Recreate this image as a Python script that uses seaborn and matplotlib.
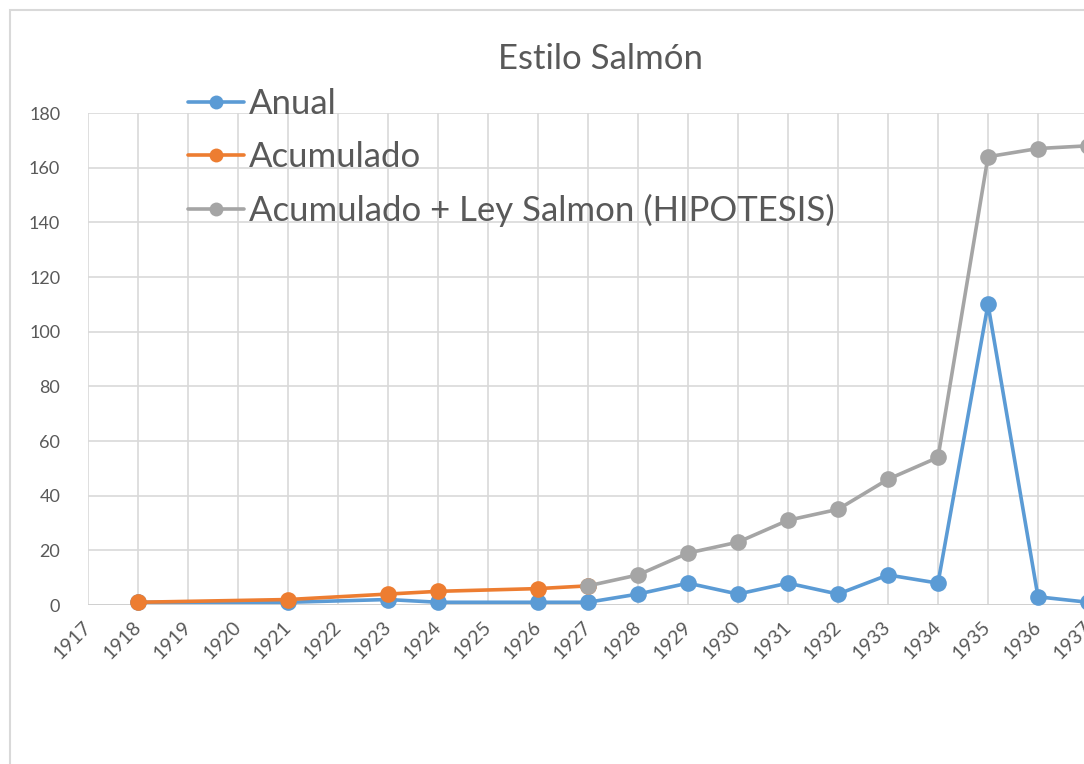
import pandas as pd
import matplotlib.pyplot as plt
import seaborn as sns
from matplotlib.patches import Rectangle

# Datos
anual_years = [1918, 1921, 1923, 1924, 1926, 1927, 1928, 1929, 1930, 1931, 1932, 1933, 1934, 1935, 1936, 1937]
anual_vals = [1, 1, 2, 1, 1, 1, 4, 8, 4, 8, 4, 11, 8, 110, 3, 1]

acum_years = [1918, 1921, 1923, 1924, 1926, 1927]
acum_vals = [1, 2, 4, 5, 6, 7]

ley_years = [1927, 1928, 1929, 1930, 1931, 1932, 1933, 1934, 1935, 1936, 1937]
ley_vals = [7, 11, 19, 23, 31, 35, 46, 54, 164, 167, 168]

x_ticks = list(range(1917, 1938))
y_ticks = list(range(0, 181, 20))

labels = ['Anual', 'Acumulado', 'Acumulado + Ley Salmon (HIPOTESIS)']
colors = ['#5B9BD5', '#ED7D31', '#A5A5A5']

sns.set_style('white')
plt.rcParams['font.family'] = ['Lato', 'DejaVu Sans']
txt_color = '#595959'

fig = plt.figure(figsize=(10.84, 7.64), dpi=100)
ax = fig.add_axes([88 / 1084, 159 / 764, 1000 / 1084, 492 / 764])

series = [(anual_years, anual_vals), (acum_years, acum_vals), (ley_years, ley_vals)]
for (yrs, vals), lab, col in zip(series, labels, colors):
    df = pd.DataFrame({'year': yrs, 'value': vals})
    sns.lineplot(data=df, x='year', y='value', ax=ax, color=col, label=lab,
                 marker='o', markersize=12, markeredgewidth=0, linewidth=2.6,
                 clip_on=False, zorder=3)

ax.set_xlim(1917, 1937)
ax.set_ylim(0, 180)
ax.set_xticks(x_ticks)
ax.set_yticks(y_ticks)
ax.set_xticklabels([str(t) for t in x_ticks], rotation=45, ha='right',
                   rotation_mode='anchor', va='center', fontsize=14, color=txt_color)
ax.set_yticklabels([str(t) for t in y_ticks], fontsize=13, color=txt_color)
ax.tick_params(axis='x', length=0, pad=14)
ax.tick_params(axis='y', length=0, pad=20)
ax.set_xlabel('')
ax.set_ylabel('')
ax.grid(True, color='#D9D9D9', linewidth=1.2)
ax.set_axisbelow(True)
for s in ax.spines.values():
    s.set_visible(False)
ax.axhline(0, color='#D0D0D0', linewidth=1.4, zorder=1)

leg = ax.legend(loc='upper left', bbox_to_anchor=(188 / 1084, 676 / 764),
                bbox_transform=fig.transFigure, frameon=False, fontsize=25,
                handlelength=1.6, handletextpad=0.15, labelspacing=0.6,
                borderaxespad=0, borderpad=0)
for t in leg.get_texts():
    t.set_color(txt_color)
for h in leg.legend_handles:
    h.set_markersize(10)

fig.text(600 / 1084, 705 / 764, 'Estilo Salmón', ha='center', va='center',
         fontsize=25, color=txt_color)

# marco del gráfico
fig.patches.append(Rectangle((10 / 1084, -0.05), 1.2, (754 / 764) + 0.05,
                             transform=fig.transFigure, fill=False,
                             edgecolor='#D9D9D9', linewidth=1.5))

plt.savefig('out.png', dpi=100)
plt.close()
